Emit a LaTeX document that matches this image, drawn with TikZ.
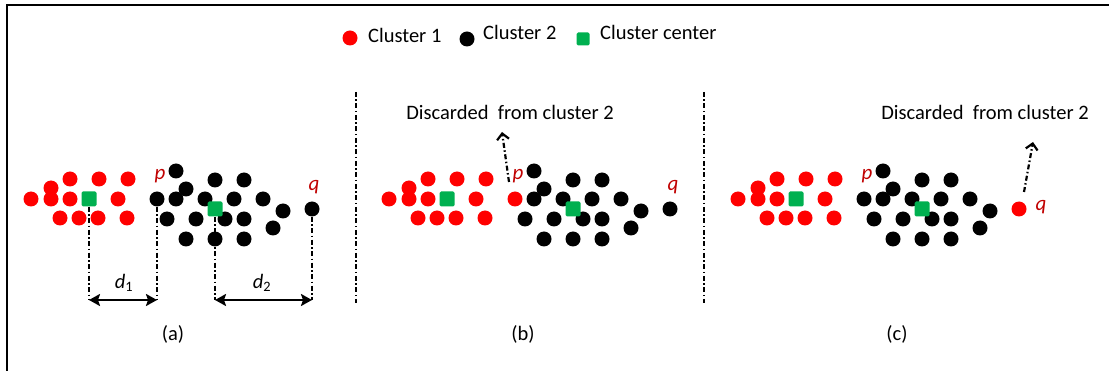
\documentclass[tikz,border=0pt]{standalone}
\usepackage{fontspec}
\setmainfont{Carlito}
\usetikzlibrary{arrows.meta}
\definecolor{dotred}{RGB}{255,0,0}
\definecolor{ctrgreen}{RGB}{0,176,80}
\definecolor{lblred}{RGB}{192,0,0}
\tikzset{
  rdot/.style={circle,fill=dotred,inner sep=0pt,minimum size=15pt},
  bdot/.style={circle,fill=black,inner sep=0pt,minimum size=15pt},
  ctr/.style={rectangle,rounded corners=1.5pt,fill=ctrgreen,inner sep=0pt,minimum size=15pt},
  txt/.style={inner sep=0pt,font=\fontsize{20.5}{24}\selectfont},
  plbl/.style={inner sep=0pt,text=lblred,font=\fontsize{21}{24}\selectfont\itshape},
  dashdot/.style={line width=2.4pt,dash pattern=on 5pt off 2.5pt on 1.5pt off 2.5pt},
  divider/.style={line width=2.4pt,dash pattern=on 5pt off 2.5pt on 1.5pt off 2.5pt},
  dimarrow/.style={line width=2.6pt,{Stealth[length=11pt,width=12pt,inset=2pt]}-{Stealth[length=11pt,width=12pt,inset=2pt]}},
  discard/.style={line width=2.2pt,dash pattern=on 5pt off 2.5pt on 1.5pt off 2.5pt,-{Straight Barb[length=6pt,width=12pt]}},
  frame/.style={line width=2.4pt}
}
\def\reddots{70/179,99/179,128/179,51/188,31/199,51/199,70/199,118/199,60/218,79/218,98/218,127/218}
\def\blackdots{176/171,186/189,176/199,167/219,215/180,244/180,205/199,234/199,263/199,283/211,196/219,225/219,244/219,273/228,186/239,215/239,244/239}
\newcommand\drawpanel[2]{%
  \foreach \x/\y [count=\i] in \reddots {\node[rdot] (r\i) at (\x,\y) {};}
  \foreach \x/\y [count=\i] in \blackdots {\node[bdot] (b\i) at (\x,\y) {};}
  \node[#1] (p) at (157,199) {};
  \node[#2] (q) at (312,209) {};
  \node[ctr] (c1) at (89,199) {};
  \node[ctr] (c2) at (215,209) {};
  \node[plbl] (plab) at (160,176) {p};
}
\begin{document}
\begin{tikzpicture}[x=1pt,y=-1pt]
\useasboundingbox (0,0) rectangle (1109,371);
% frame (left and top edges)
\coordinate (fbl) at (7,372);
\coordinate (ftl) at (7,5);
\coordinate (ftr) at (1110,5);
\draw[frame] (fbl) -- (ftl) -- (ftr);
% legend
\node[rdot] (lg1) at (350,38) {};
\node[txt,anchor=west] (lt1) at (368,35) {Cluster 1};
\node[bdot] (lg2) at (467,39) {};
\node[txt,anchor=west] (lt2) at (483,32) {Cluster 2};
\node[ctr,minimum size=13pt] (lg3) at (583,39) {};
\node[txt,anchor=west] (lt3) at (600,32) {Cluster center};
% dividers
\coordinate (v1t) at (356,92);
\coordinate (v1b) at (356,303);
\coordinate (v2t) at (704,92);
\coordinate (v2b) at (704,303);
\draw[divider] (v1t) -- (v1b);
\draw[divider] (v2t) -- (v2b);
% panel (a)
\begin{scope}[name prefix=a-]
  \drawpanel{bdot}{bdot}
  \node[plbl] (qlab) at (314,187) {q};
  \coordinate (d1l) at (89,300);
  \coordinate (d1r) at (157,300);
  \coordinate (d2l) at (215,300);
  \coordinate (d2r) at (312,300);
  \draw[dashdot] (c1.south) -- (d1l);
  \draw[dashdot] (p.south) -- (d1r);
  \draw[dashdot] (c2.south) -- (d2l);
  \draw[dashdot] (q.south) -- (d2r);
  \draw[dimarrow] (d1l) -- (d1r);
  \draw[dimarrow] (d2l) -- (d2r);
  \node[txt] (d1) at (124,283) {\textit{d}\textsubscript{1}};
  \node[txt] (d2) at (262,283) {\textit{d}\textsubscript{2}};
  \node[txt] (cap) at (173,334) {(a)};
\end{scope}
% panel (b)
\begin{scope}[shift={(358,0)},name prefix=b-]
  \drawpanel{rdot}{bdot}
  \node[plbl] (qlab) at (315,187) {q};
  \node[txt] (disc) at (152,112) {Discarded\ \ from cluster 2};
  \coordinate (arrtip) at (144,132);
  \coordinate (arrbase) at (151,182);
  \draw[discard] (arrbase) -- (arrtip);
  \node[txt] (cap) at (165,334) {(b)};
\end{scope}
% panel (c)
\begin{scope}[shift={(707,0)},name prefix=c-]
  \drawpanel{bdot}{rdot}
  \node[plbl] (qlab) at (334,207) {q};
  \node[txt] (disc) at (278,112) {Discarded\ \ from cluster 2};
  \coordinate (arrtip) at (326,142);
  \coordinate (arrbase) at (317,192);
  \draw[discard] (arrbase) -- (arrtip);
  \node[txt] (cap) at (190,334) {(c)};
\end{scope}
\end{tikzpicture}
\end{document}
